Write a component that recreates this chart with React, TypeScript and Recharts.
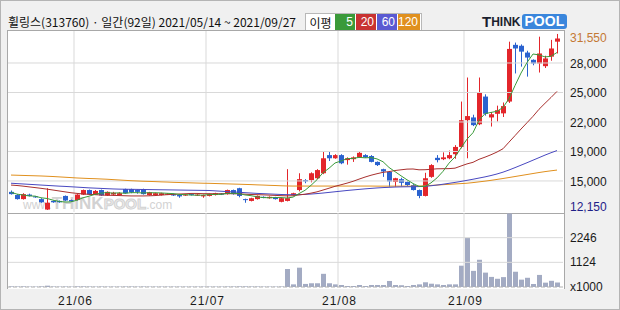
import { ComposedChart, BarChart, Bar, Line, XAxis, YAxis, ReferenceLine } from "recharts"

// daily candles, 2021/05/14 ~ 2021/09/27 (92 trading days)
const opens = [
  14150, 13800, 13350, 13850, 13650, 13350, 12200, 13150, 13150, 13700,
  13250, 13250, 13850, 14350, 13850, 14350, 13750, 13850, 13800, 14450,
  14450, 14350, 14450, 13800, 13800, 13800, 13850, 13900, 13800, 13750,
  13900, 13750, 13650, 13700, 13800, 13950, 13900, 14350, 14550, 13350,
  13150, 13350, 13600, 13450, 13550, 13050, 13150, 13800, 14350, 15450,
  15450, 15650, 16200, 18200, 17850, 18200, 17650, 17750, 17950, 18200,
  18100, 17450, 16650, 16350, 15250, 15550, 15250, 14900, 14350, 13700,
  15800, 17900, 17750, 17850, 18300, 19100, 22050, 22350, 21600, 24650,
  22350, 22750, 22800, 24100, 30350, 30250, 29500, 28700, 28300, 28000,
  29050, 30700,
]
const highs = [
  14300, 13900, 14000, 13950, 13700, 13450, 14550, 13200, 13200, 13750,
  13300, 13900, 14400, 14400, 14350, 14400, 14200, 14150, 14100, 14500,
  14500, 14400, 14500, 14150, 14050, 14050, 14000, 13950, 13850, 13900,
  13950, 13900, 13850, 13950, 14050, 14000, 14400, 14400, 14600, 13400,
  13500, 13750, 13650, 13650, 13600, 13500, 16650, 14050, 16200, 15550,
  16300, 16650, 18550, 18550, 18300, 18300, 17950, 18050, 18600, 18300,
  18200, 17500, 16700, 16450, 15700, 15700, 15300, 15000, 14400, 16250,
  17200, 18200, 18500, 18700, 19300, 24100, 26750, 22650, 26750, 24900,
  22950, 23650, 24000, 30700, 30600, 30400, 29700, 28750, 31250, 29150,
  30900, 31550,
]
const lows = [
  13850, 13300, 13300, 13650, 13500, 12950, 12150, 12950, 12950, 13150,
  13050, 13200, 13800, 13800, 13800, 13700, 13700, 13750, 13750, 13950,
  14000, 13950, 13850, 13750, 13750, 13750, 13800, 13700, 13500, 13700,
  13750, 13700, 13500, 13650, 13750, 13800, 13850, 13850, 13550, 12950,
  13100, 13300, 13450, 13400, 13300, 13000, 13100, 13750, 14200, 15100,
  15200, 15550, 16100, 17550, 17800, 17200, 17150, 17450, 17900, 17900,
  17400, 17000, 15800, 14700, 14700, 14750, 14800, 14300, 13450, 13650,
  15700, 17400, 17650, 17750, 17800, 18950, 17850, 21400, 21500, 22550,
  21350, 21900, 22400, 23950, 27200, 27950, 26850, 28100, 27300, 27800,
  28600, 29400,
]
const closes = [
  13900, 13350, 13900, 13700, 13550, 13000, 12950, 13000, 13000, 13200,
  13100, 13850, 14350, 13850, 14250, 13750, 14150, 14050, 14000, 14000,
  14100, 14150, 13900, 14100, 14000, 14000, 13950, 13750, 13650, 13850,
  13800, 13850, 13800, 13900, 14000, 13850, 14350, 13900, 13700, 13250,
  13450, 13700, 13500, 13600, 13350, 13450, 13450, 14000, 15550, 15300,
  16200, 16550, 17850, 17850, 18200, 17300, 17850, 17950, 18450, 17950,
  17450, 17100, 16400, 15300, 15650, 15150, 14900, 14350, 13700, 15650,
  17100, 17650, 17950, 18200, 19100, 22050, 22500, 21500, 25050, 22750,
  22700, 23150, 23600, 29900, 29950, 29600, 28950, 28300, 29400, 28850,
  29950, 31050,
]
// volume, thousand shares
const volumes = [
  30, 25, 30, 20, 20, 30, 60, 25, 20, 25,
  20, 30, 30, 25, 20, 25, 20, 20, 20, 25,
  25, 20, 25, 20, 20, 20, 20, 20, 20, 20,
  20, 20, 20, 20, 20, 20, 25, 25, 30, 30,
  25, 25, 20, 20, 20, 25, 820, 120, 880, 140,
  170, 170, 600, 170, 120, 90, 45, 45, 90, 45,
  90, 90, 90, 275, 90, 80, 45, 90, 120, 215,
  150, 120, 90, 120, 120, 970, 2240, 735, 1240, 655,
  460, 375, 450, 3345, 695, 335, 420, 138, 550, 198,
  282, 205,
]
const ma5 = [
  14100, 13900, 13800, 13700, 13680, 13500, 13420, 13240, 13100, 13030,
  13050, 13230, 13500, 13670, 13880, 14010, 14070, 14010, 14040, 13990,
  14060, 14060, 14030, 14050, 14050, 14030, 13990, 13960, 13870, 13840,
  13800, 13780, 13790, 13840, 13870, 13880, 13980, 14000, 13960, 13810,
  13730, 13600, 13520, 13500, 13520, 13520, 13470, 13570, 13960, 14320,
  14870, 15490, 16260, 16750, 17330, 17550, 17810, 17830, 17950, 17900,
  17930, 17780, 17470, 16840, 16380, 15920, 15480, 15070, 14750, 14750,
  15140, 15690, 16410, 17310, 18000, 18990, 19960, 20670, 22040, 22770,
  22900, 23030, 23450, 24420, 25860, 27240, 28400, 29340, 29240, 29020,
  29090, 29510,
]
const ma20 = [
  14900, 14850, 14780, 14700, 14620, 14540, 14450, 14350, 14250, 14150,
  14050, 13980, 13920, 13880, 13840, 13800, 13780, 13760, 13740, 13720,
  13700, 13700, 13700, 13715, 13740, 13790, 13840, 13875, 13910, 13940,
  13975, 13975, 13950, 13950, 13940, 13940, 13950, 13945, 13930, 13890,
  13860, 13840, 13820, 13790, 13760, 13730, 13710, 13720, 13815, 13890,
  14010, 14150, 14350, 14550, 14760, 14930, 15110, 15310, 15550, 15780,
  15980, 16150, 16300, 16380, 16500, 16580, 16655, 16670, 16580, 16590,
  16635, 16690, 16700, 16710, 16760, 17000, 17230, 17405, 17735, 17975,
  18240, 18540, 18900, 19630, 20345, 21070, 21770, 22470, 23250, 23910,
  24550, 25220,
]
const ma60 = [
  15100, 15060, 15020, 14980, 14940, 14900, 14860, 14820, 14780, 14750,
  14710, 14670, 14630, 14590, 14560, 14530, 14500, 14470, 14450, 14440,
  14430, 14420, 14410, 14400, 14390, 14380, 14370, 14360, 14350, 14340,
  14330, 14320, 14310, 14300, 14260, 14220, 14180, 14140, 14100, 14060,
  14020, 13980, 13950, 13920, 13890, 13860, 13840, 13830, 13840, 13870,
  13910, 13960, 14020, 14090, 14160, 14230, 14300, 14360, 14420, 14480,
  14530, 14580, 14620, 14650, 14680, 14700, 14710, 14720, 14730, 14760,
  14820, 14900, 14990, 15090, 15190, 15300, 15420, 15540, 15670, 15800,
  15950, 16120, 16320, 16560, 16820, 17090, 17360, 17640, 17920, 18200,
  18460, 18700,
]
const ma120 = [
  16000, 15980, 15960, 15940, 15920, 15900, 15870, 15840, 15800, 15760,
  15720, 15680, 15650, 15620, 15600, 15570, 15540, 15500, 15460, 15420,
  15380, 15350, 15320, 15300, 15280, 15250, 15230, 15200, 15180, 15160,
  15140, 15120, 15100, 15090, 15070, 15050, 15030, 15010, 14990, 14970,
  14950, 14920, 14900, 14870, 14850, 14820, 14800, 14790, 14790, 14790,
  14790, 14790, 14790, 14790, 14790, 14790, 14790, 14790, 14790, 14790,
  14790, 14780, 14780, 14780, 14780, 14780, 14780, 14780, 14790, 14820,
  14860, 14900, 14940, 14980, 15020, 15060, 15100, 15170, 15250, 15330,
  15420, 15520, 15620, 15730, 15840, 15950, 16060, 16170, 16280, 16380,
  16470, 16550,
]

const monthStarts = [11, 33, 55, 76]
const monthLabels = ["21/06", "21/07", "21/08", "21/09"]

const priceGrid = [15350, 18600, 21850, 25100, 28350]
const priceGridLabels = ["15,000", "19,000", "22,000", "25,000", "28,000"]
const priceHigh = 31550
const priceLow = 12150

const volGrid = [1123, 2246]
const volTickLabels = ["x1000", "1124", "2246"]

const maLegend = [
  { label: "5", color: "#3a9a3a" },
  { label: "20", color: "#c83232" },
  { label: "60", color: "#5a5ad2" },
  { label: "120", color: "#e0901e" },
]

const RED = "#e3262b"
const BLUE = "#2a62cf"
const GRID = "#d9d9d9"
const AXIS_FONT = "'Liberation Sans', Arial, sans-serif"
const LABEL_X = 570

const rows = closes.map((c, i) => ({
  idx: i,
  open: opens[i],
  high: highs[i],
  low: lows[i],
  close: c,
  vol: volumes[i],
  ma5: ma5[i],
  ma20: ma20[i],
  ma60: ma60[i],
  ma120: ma120[i],
}))

function Candle(props: any) {
  const { x, y, width, height, payload } = props
  if (!payload) return null
  const top = Math.min(y, y + height)
  const bottom = Math.max(y, y + height)
  const k = (bottom - top) / (payload.high - payload.low || 1)
  const up = payload.close >= payload.open
  const color = up ? RED : BLUE
  const bodyTop = top + (payload.high - Math.max(payload.open, payload.close)) * k
  const bodyBot = top + (payload.high - Math.min(payload.open, payload.close)) * k
  const bx = Math.round(x)
  const bw = Math.round(width)
  const wx = bx + Math.floor(bw / 2)
  return (
    <g>
      <rect x={wx} y={top} width={1} height={Math.max(1, bottom - top)} fill={color} />
      <rect x={bx} y={bodyTop} width={bw} height={Math.max(1, bodyBot - bodyTop)} fill={color} />
    </g>
  )
}

function PriceTick(props: any) {
  const { y, payload } = props
  const v = payload.value
  let label = ""
  let color = "#1a1a1a"
  let dy = 1
  if (v === priceHigh) {
    label = priceHigh.toLocaleString("en-US")
    color = "#c47834"
    dy = 4
  } else if (v === priceLow) {
    label = priceLow.toLocaleString("en-US")
    color = "#1f2088"
    dy = -3
  } else {
    label = priceGridLabels[priceGrid.indexOf(v)]
  }
  return (
    <text x={LABEL_X} y={y + dy} dominantBaseline="central" fontSize={12} fontFamily={AXIS_FONT} fill={color}>
      {label}
    </text>
  )
}

function VolTick(props: any) {
  const { y, index } = props
  return (
    <text x={LABEL_X} y={y} dominantBaseline="central" fontSize={12} fontFamily={AXIS_FONT} fill="#1a1a1a">
      {volTickLabels[index]}
    </text>
  )
}

function MonthTick(props: any) {
  const { x, y, index } = props
  return (
    <text x={x - 1.5} y={y + 6} textAnchor="middle" dominantBaseline="central" fontSize={12} letterSpacing={1} fontFamily={AXIS_FONT} fill="#1a1a1a">
      {monthLabels[index]}
    </text>
  )
}

export default function App() {
  return (
    <div
      style={{
        position: "absolute",
        left: 0,
        top: 0,
        width: 620,
        height: 310,
        background: "#f0f0f0",
        border: "1px solid #b4b4b4",
        boxSizing: "border-box",
        overflow: "hidden",
      }}
    >
      {/* header */}
      <div
        style={{
          position: "absolute",
          left: 7,
          top: 13,
          height: 16,
          lineHeight: "16px",
          fontSize: 12,
          fontFamily: "'Noto Sans CJK KR', sans-serif",
          color: "#111",
          whiteSpace: "nowrap",
        }}
      >
        휠링스(313760) · 일간(92일) 2021/05/14 ~ 2021/09/27
      </div>
      <div
        style={{
          position: "absolute",
          left: 304,
          top: 12,
          height: 17,
          display: "flex",
          border: "1px solid #b8b8b8",
          background: "#fff",
          fontFamily: AXIS_FONT,
          fontSize: 12,
          lineHeight: "17px",
        }}
      >
        <div style={{ width: 29, textAlign: "center", color: "#111", fontFamily: "'Noto Sans CJK KR', sans-serif" }}>이평</div>
        {maLegend.map((m) => (
          <div
            key={m.label}
            style={{ width: m.label === "120" ? 22 : 20, marginRight: 1, background: m.color, color: "#fff", textAlign: "right", paddingRight: 2, boxSizing: "border-box" }}
          >
            {m.label}
          </div>
        ))}
      </div>
      <div
        style={{
          position: "absolute",
          left: 481,
          top: 12,
          height: 17,
          display: "flex",
          alignItems: "center",
          fontFamily: "Arial, 'Liberation Sans', sans-serif",
          fontWeight: 700,
        }}
      >
        <span style={{ fontSize: 15, color: "#1b1f2e" }}>T</span>
        <span style={{ fontSize: 12, color: "#1b1f2e", marginRight: 1 }}>HINK</span>
        <span style={{ fontSize: 14, color: "#fff", background: "#3a86dc", padding: "0 3px", borderRadius: 3, lineHeight: "15px" }}>POOL</span>
      </div>

      {/* panels */}
      <div style={{ position: "absolute", left: 6, top: 29, width: 558, height: 184, background: "#fff", border: "1px solid #a8a8a8", boxSizing: "border-box" }} />
      <div style={{ position: "absolute", left: 6, top: 212, width: 558, height: 76, background: "#fff", borderLeft: "1px solid #a8a8a8", borderRight: "1px solid #a8a8a8", borderTop: "1px solid #a8a8a8", boxSizing: "border-box" }} />

      {/* watermark */}
      <div
        style={{
          position: "absolute",
          left: 22,
          top: 194,
          fontFamily: "Arial, 'Liberation Sans', sans-serif",
          color: "#d2d2d2",
          whiteSpace: "nowrap",
          lineHeight: "18px",
        }}
      >
        <span style={{ fontSize: 12 }}>www.</span>
        <span style={{ fontSize: 17, fontWeight: 700 }}>THINK</span>
        <span style={{ fontSize: 15, fontWeight: 700, color: "#eee", WebkitTextStroke: "1px #d2d2d2" }}>POOL</span>
        <span style={{ fontSize: 12 }}>.com</span>
      </div>

      {/* price panel */}
      <div style={{ position: "absolute", left: -1, top: -1 }}>
        <ComposedChart width={620} height={215} data={rows} margin={{ top: 31, right: 0, bottom: 3, left: 8 }}>
          <XAxis dataKey="idx" hide padding={{ left: 0, right: 3 }} />
          <YAxis
            orientation="right"
            width={57}
            domain={[11930, 31876]}
            allowDataOverflow
            ticks={[priceLow, ...priceGrid, priceHigh]}
            interval={0}
            tick={<PriceTick />}
            axisLine={false}
            tickLine={false}
          />
          {priceGrid.map((v) => (
            <ReferenceLine key={v} y={v} stroke={GRID} />
          ))}
          {monthStarts.map((i) => (
            <ReferenceLine key={i} x={i} position="start" stroke={GRID} />
          ))}
          <Bar dataKey={(d: any) => [d.low, d.high]} barSize={5} shape={(p: any) => <Candle {...p} />} isAnimationActive={false} />
          <Line dataKey="ma120" stroke="#e0901e" strokeWidth={1} dot={false} activeDot={false} type="linear" isAnimationActive={false} />
          <Line dataKey="ma60" stroke="#4848c0" strokeWidth={1} dot={false} activeDot={false} type="linear" isAnimationActive={false} />
          <Line dataKey="ma20" stroke="#a8302e" strokeWidth={1} dot={false} activeDot={false} type="linear" isAnimationActive={false} />
          <Line dataKey="ma5" stroke="#3a9a3a" strokeWidth={1} dot={false} activeDot={false} type="linear" isAnimationActive={false} />
        </ComposedChart>
      </div>

      {/* volume panel */}
      <div style={{ position: "absolute", left: -1, top: 212 }}>
        <BarChart width={620} height={97} data={rows} margin={{ top: 0, right: 0, bottom: 0, left: 8 }}>
          <XAxis
            dataKey="idx"
            padding={{ left: 0, right: 3 }}
            height={23}
            ticks={monthStarts}
            interval={0}
            tick={<MonthTick />}
            axisLine={false}
            tickLine={false}
          />
          <YAxis
            orientation="right"
            width={57}
            domain={[0, 3369]}
            ticks={[0, ...volGrid]}
            interval={0}
            tick={<VolTick />}
            axisLine={false}
            tickLine={false}
          />
          {volGrid.map((v) => (
            <ReferenceLine key={v} y={v} stroke={GRID} />
          ))}
          {monthStarts.map((i) => (
            <ReferenceLine key={i} x={i} position="start" stroke={GRID} />
          ))}
          <ReferenceLine y={0} stroke="#b0b0b0" strokeDasharray="4 2" />
          <Bar dataKey="vol" barSize={5} fill="#a3abc3" isAnimationActive={false} />
        </BarChart>
      </div>
    </div>
  )
}
